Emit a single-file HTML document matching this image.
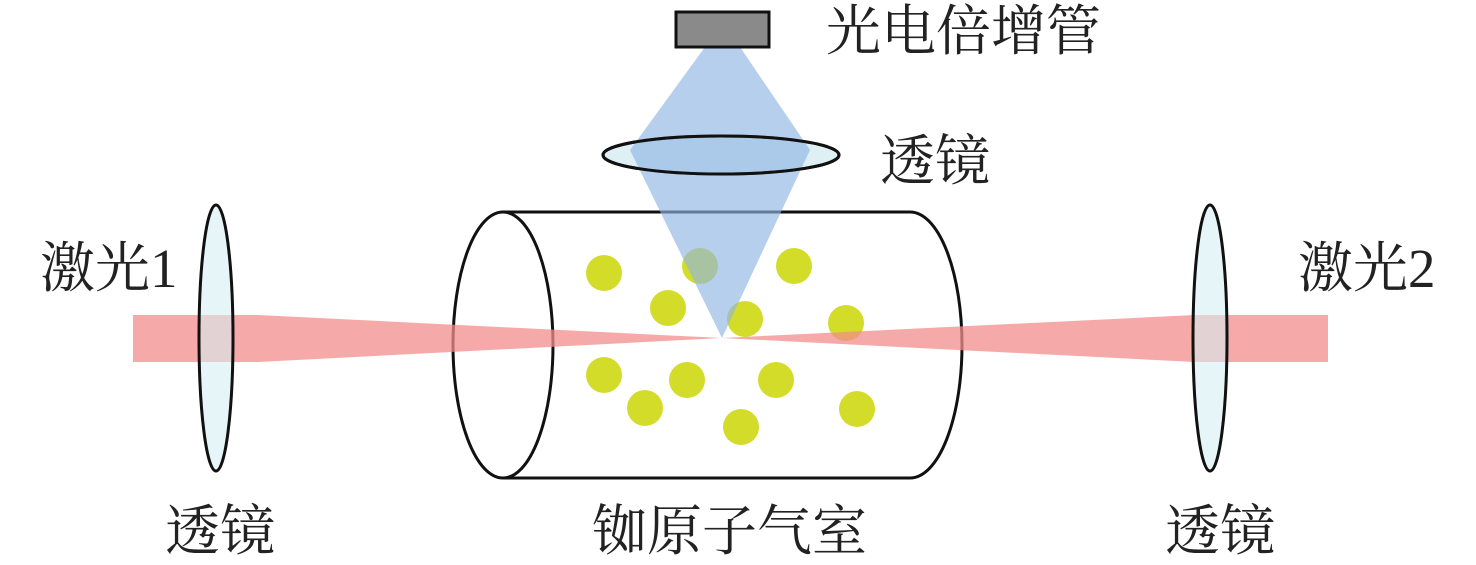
<!DOCTYPE html>
<html><head><meta charset="utf-8"><style>
html,body{margin:0;padding:0;background:#fff;}
svg{display:block;}
text{font-family:"Liberation Serif","Noto Serif CJK SC","Noto Sans CJK SC",serif;font-size:55px;fill:#222;}
</style></head><body>
<svg width="1476" height="565" viewBox="0 0 1476 565" xmlns="http://www.w3.org/2000/svg">
<path d="M503,212 L910,212 A52,133 0 0 1 910,478 L503,478" fill="none" stroke="#111" stroke-width="3"/>
<ellipse cx="503" cy="345" rx="50" ry="133" fill="#fff" stroke="#111" stroke-width="3"/>
<g fill="#d4dc2a">
<circle cx="604" cy="273" r="18"/><circle cx="700" cy="266" r="18"/><circle cx="794" cy="266" r="18"/>
<circle cx="668" cy="308" r="18"/><circle cx="745" cy="319" r="18"/><circle cx="846" cy="323" r="18"/>
<circle cx="604" cy="375" r="18"/><circle cx="687" cy="380" r="18"/><circle cx="776" cy="380" r="18"/>
<circle cx="645" cy="408" r="18"/><circle cx="741" cy="427" r="18"/><circle cx="857" cy="409" r="18"/>
</g>
<polygon points="133,315 258,315 722,338 258,362 133,362" fill="#f28c8c" fill-opacity="0.75"/>
<polygon points="1328,315 1195,315 722,338 1195,362 1328,362" fill="#f28c8c" fill-opacity="0.75"/>
<ellipse cx="216" cy="338" rx="17" ry="133" fill="#d5eef2" fill-opacity="0.6" stroke="#111" stroke-width="3"/>
<ellipse cx="1210" cy="338" rx="17" ry="133" fill="#d5eef2" fill-opacity="0.6" stroke="#111" stroke-width="3"/>
<ellipse cx="721" cy="155" rx="118" ry="19" fill="#dff0f5" stroke="#111" stroke-width="3"/>
<polygon points="705,47 740,47 810,150 722,338 630,150" fill="#8fb6e3" fill-opacity="0.65"/>
<ellipse cx="721" cy="155" rx="118" ry="19" fill="none" stroke="#111" stroke-width="3"/>
<rect x="676" y="12" width="93" height="35" fill="#8a8a8a" stroke="#111" stroke-width="3"/>
<text x="826" y="50">光电倍增管</text>
<text x="880" y="180">透镜</text>
<text x="40" y="287">激光1</text>
<text x="1298" y="287">激光2</text>
<text x="165" y="550">透镜</text>
<text x="592" y="550">铷原子气室</text>
<text x="1165" y="550">透镜</text>
</svg>
</body></html>
